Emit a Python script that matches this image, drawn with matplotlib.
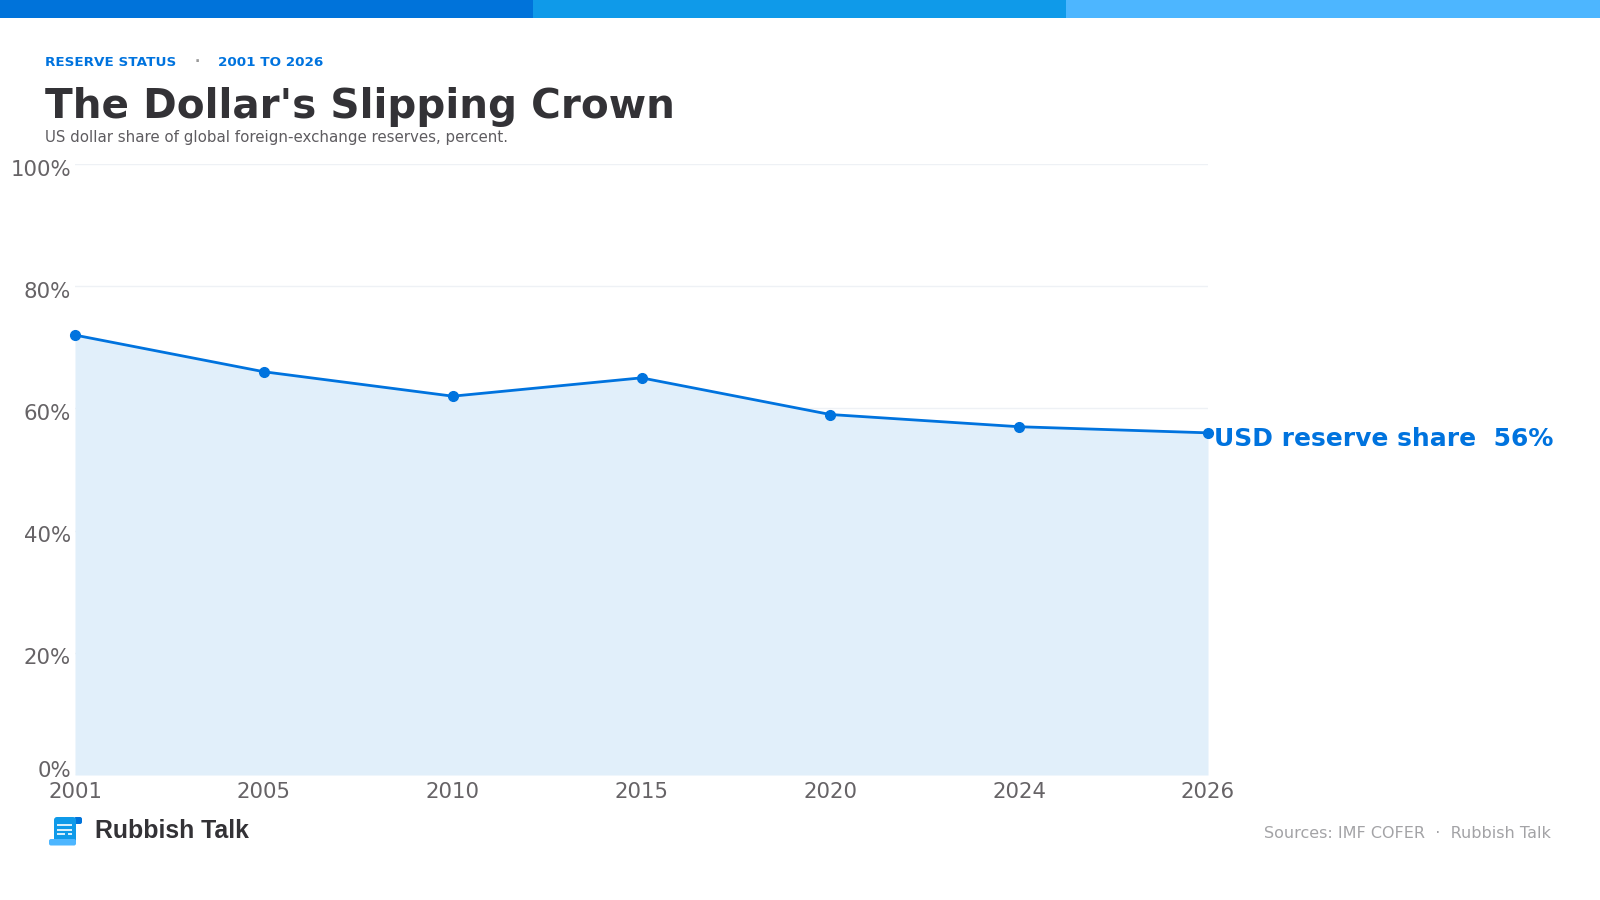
import matplotlib
matplotlib.use('Agg')
import matplotlib.pyplot as plt
from matplotlib.patches import Rectangle, FancyBboxPatch

plt.rcParams['font.family'] = ['DejaVu Sans']

years = ['2001', '2005', '2010', '2015', '2020', '2024', '2026']
usd_share = [72, 66, 62, 65, 59, 57, 56]
y_ticks = [0, 20, 40, 60, 80, 100]
y_labels = ['0%', '20%', '40%', '60%', '80%', '100%']
y_label_shift = [3, -4, -4, -4, -4, -4]

BLUE = '#0073DE'
FILL = '#E1EFFA'
GREY = '#666366'
W, H = 1600, 900

fig = plt.figure(figsize=(16, 9), dpi=100, facecolor='white')

# overlay in pixel coordinates for the header strip and footer
bg = fig.add_axes([0, 0, 1, 1])
bg.set_xlim(0, W)
bg.set_ylim(H, 0)
bg.axis('off')

bg.add_patch(Rectangle((0, 0), 533, 18, color='#0073DA', lw=0))
bg.add_patch(Rectangle((533, 0), 533, 18, color='#0F9AE9', lw=0))
bg.add_patch(Rectangle((1066, 0), 534, 18, color='#4DB6FF', lw=0))

bg.text(45, 63, 'RESERVE STATUS', color=BLUE, fontsize=9.7, fontweight='bold', va='center')
bg.text(197, 62, '·', color='#999999', fontsize=10, fontweight='bold', va='center', ha='center')
bg.text(218.5, 63, '2001 TO 2026', color=BLUE, fontsize=9.7, fontweight='bold', va='center')
bg.text(45, 107, "The Dollar's Slipping Crown", color='#333236', fontsize=29.2,
        fontweight='bold', va='center')
bg.text(45, 137.5, 'US dollar share of global foreign-exchange reserves, percent.',
        color='#5E5C60', fontsize=10.8, va='center')

# chart
ax = fig.add_axes([75 / W, 1 - 775 / H, (1208 - 75) / W, (775 - 164) / H])
ax.patch.set_alpha(0)
x = list(range(len(years)))
ax.fill_between(x, usd_share, 0, color=FILL, lw=0, zorder=1)
ax.plot(x, usd_share, color=BLUE, lw=2, marker='o', ms=7, clip_on=False, zorder=3)
ax.set_xlim(0, len(years) - 1)
ax.set_ylim(0, 100)
for s in ax.spines.values():
    s.set_visible(False)
ax.set_yticks(y_ticks)
ax.set_yticklabels([])
ax.set_xticks(x)
ax.set_xticklabels(years, color=GREY, fontsize=15.3)
ax.tick_params(length=0)
ax.tick_params(axis='x', pad=5)
ax.grid(axis='y', color='#EEF1F5', lw=1, zorder=0)
ax.set_axisbelow(True)

for val, lab, shift in zip(y_ticks, y_labels, y_label_shift):
    ax.annotate(lab, (0, val), xytext=(-3, shift), textcoords='offset points',
                ha='right', va='center', color=GREY, fontsize=15.3)

ax.annotate(f'USD reserve share  {usd_share[-1]}%', (x[-1], usd_share[-1]), xytext=(4, -4.3),
            textcoords='offset points', color=BLUE, fontsize=18, fontweight='bold',
            va='center', ha='left', annotation_clip=False)

# footer logo: a small scroll
bg.add_patch(FancyBboxPatch((74, 817), 8, 7, boxstyle='round,pad=0,rounding_size=2',
                            fc='#0073DA', ec='none', zorder=1))
bg.add_patch(FancyBboxPatch((54, 817), 22, 28, boxstyle='round,pad=0,rounding_size=3',
                            fc='#0F9AE9', ec='none', zorder=2))
bg.add_patch(FancyBboxPatch((49, 839), 27, 6.5, boxstyle='round,pad=0,rounding_size=2',
                            fc='#4DB6FF', ec='none', zorder=3))
for yy, x0, x1 in [(825, 57, 72), (829.5, 57, 72), (834, 57, 65), (834, 68, 72)]:
    bg.plot([x0, x1], [yy, yy], color='white', lw=1.2, zorder=4, solid_capstyle='butt')
bg.text(95, 831, 'Rubbish Talk', color='#333236', fontsize=17.9, fontweight='bold',
        family='Liberation Sans', va='center')
bg.text(1551, 833, 'Sources: IMF COFER  ·  Rubbish Talk', color='#A3A3A6', fontsize=11.55,
        va='center', ha='right')

fig.savefig('out.png', dpi=100)
